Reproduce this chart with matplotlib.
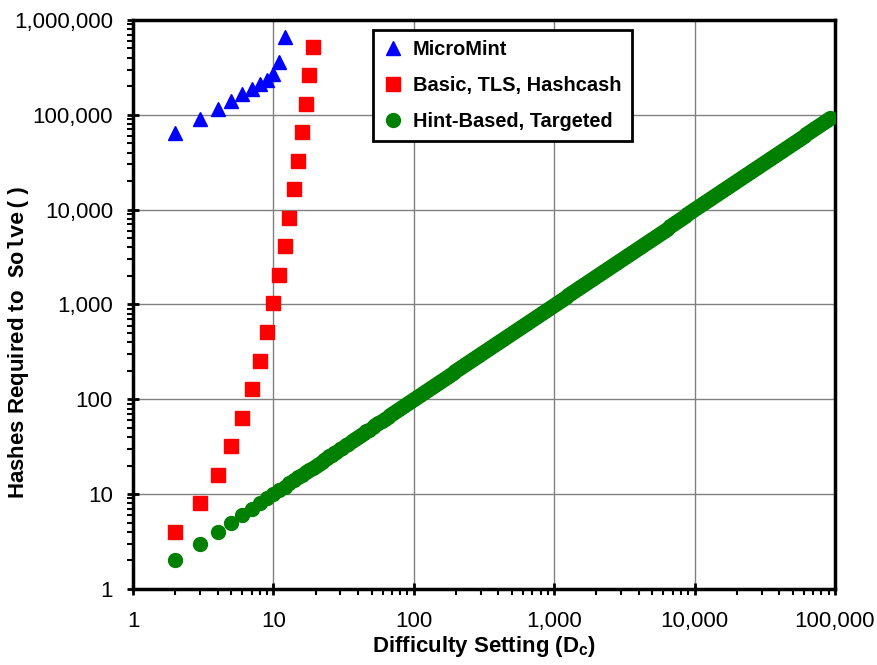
import matplotlib.pyplot as plt
from matplotlib.ticker import FuncFormatter, NullFormatter, LogLocator

plt.rcParams['font.family'] = 'Liberation Sans'
plt.rcParams['mathtext.fontset'] = 'custom'
plt.rcParams['mathtext.tt'] = 'Liberation Mono:bold'
plt.rcParams['mathtext.bf'] = 'Liberation Sans:bold'
plt.rcParams['mathtext.rm'] = 'Liberation Sans'

# MicroMint
micromint_x = [2, 3, 4, 5, 6, 7, 8, 9, 10, 11, 12]
micromint_y = [64500, 90500, 115000, 140000, 166000, 187000, 211000, 234000, 270000, 361000, 660000]

# Basic, TLS, Hashcash
basic_x = [2, 3, 4, 5, 6, 7, 8, 9, 10, 11, 12, 13, 14, 15, 16, 17, 18, 19]
basic_y = [4, 8, 16, 32, 64, 128, 256, 512, 1024, 2048, 4096, 8192, 16384,
           32768, 65536, 131072, 262144, 524288]

# Hint-Based, Targeted (hashes equal difficulty)
hint_x = [2, 3, 4, 5, 6, 7, 8, 9, 10, 11, 12, 13, 14, 15, 16, 17, 18, 19, 20, 21, 22, 23,
          24, 25, 26, 27, 28, 30, 31, 33, 34, 36, 38, 40, 42, 44, 46, 48, 51, 53, 56, 59,
          62, 65, 68, 71, 75, 79, 83, 87, 91, 96, 100, 105, 110, 116, 122, 128, 134, 141,
          148, 155, 163, 171, 180, 189, 198, 208, 218, 229, 241, 253, 265, 279, 293, 307,
          323, 339, 356, 373, 392, 412, 432, 454, 476, 500, 525, 551, 579, 608, 638, 670,
          704, 739, 776, 815, 855, 898, 943, 990, 1040, 1092, 1146, 1204, 1264, 1327,
          1393, 1463, 1536, 1613, 1694, 1778, 1867, 1961, 2059, 2162, 2270, 2383, 2502,
          2627, 2759, 2897, 3042, 3194, 3353, 3521, 3697, 3882, 4076, 4280, 4494, 4719,
          4955, 5202, 5463, 5736, 6023, 6324, 6640, 6972, 7321, 7687, 8071, 8475, 8899,
          9344, 9811, 10301, 10816, 11357, 11925, 12521, 13147, 13805, 14495, 15220,
          15981, 16780, 17619, 18500, 19425, 20396, 21416, 22487, 23611, 24792, 26031,
          27333, 28700, 30135, 31641, 33223, 34885, 36629, 38460, 40383, 42403, 44523,
          46749, 49086, 51541, 54118, 56824, 59665, 62648, 65781, 69070, 72523, 76149,
          79957, 83955, 88152, 92000]
hint_y = list(hint_x)

fig = plt.figure(figsize=(8.77, 6.65), dpi=100)
ax = fig.add_axes([0.1517, 0.1143, 0.8004, 0.8557])

ax.plot(micromint_x, micromint_y, linestyle='none', marker='^', markersize=10,
        color='#0000FF', label='MicroMint', zorder=3)
ax.plot(basic_x, basic_y, linestyle='none', marker='s', markersize=9.5,
        color='#FF0000', label='Basic, TLS, Hashcash', zorder=3)
ax.plot(hint_x, hint_y, linestyle='none', marker='o', markersize=10,
        color='#008000', label='Hint-Based, Targeted', zorder=3)

ax.set_xscale('log')
ax.set_yscale('log')
ax.set_xlim(1, 100000)
ax.set_ylim(1, 1000000)

fmt = FuncFormatter(lambda v, p: f'{v:,.0f}')
ax.xaxis.set_major_formatter(fmt)
ax.yaxis.set_major_formatter(fmt)
ax.xaxis.set_minor_formatter(NullFormatter())
ax.yaxis.set_minor_formatter(NullFormatter())
ax.xaxis.set_minor_locator(LogLocator(base=10, subs=range(2, 10), numticks=20))
ax.yaxis.set_minor_locator(LogLocator(base=10, subs=range(2, 10), numticks=20))

ax.tick_params(which='major', direction='inout', length=9, width=2, labelsize=16)
ax.tick_params(which='minor', direction='out', length=4, width=1.5)
ax.tick_params(axis='y', which='major', pad=10)
ax.tick_params(axis='x', which='major', pad=11)

for s in ax.spines.values():
    s.set_linewidth(2.5)

ax.grid(True, which='major', color='#808080', linewidth=1)
ax.set_axisbelow(True)

ax.set_xlabel('Difficulty Setting (D$_{\\mathbf{c}}$)', fontsize=16, fontweight='bold', labelpad=2)
ax.set_ylabel('Hashes Required to  $\\mathtt{Solve()}$', fontsize=16, fontweight='bold')
ax.yaxis.set_label_coords(-0.146, 0.434)

leg = ax.legend(loc='upper left', bbox_to_anchor=(0.342, 0.982), borderaxespad=0,
                fancybox=False, framealpha=1, edgecolor='black',
                prop={'weight': 'bold', 'size': 14.4},
                handletextpad=0.5, borderpad=0.5, labelspacing=0.85, handlelength=1.0)
leg.get_frame().set_linewidth(2)

fig.savefig('out.png', dpi=100)
